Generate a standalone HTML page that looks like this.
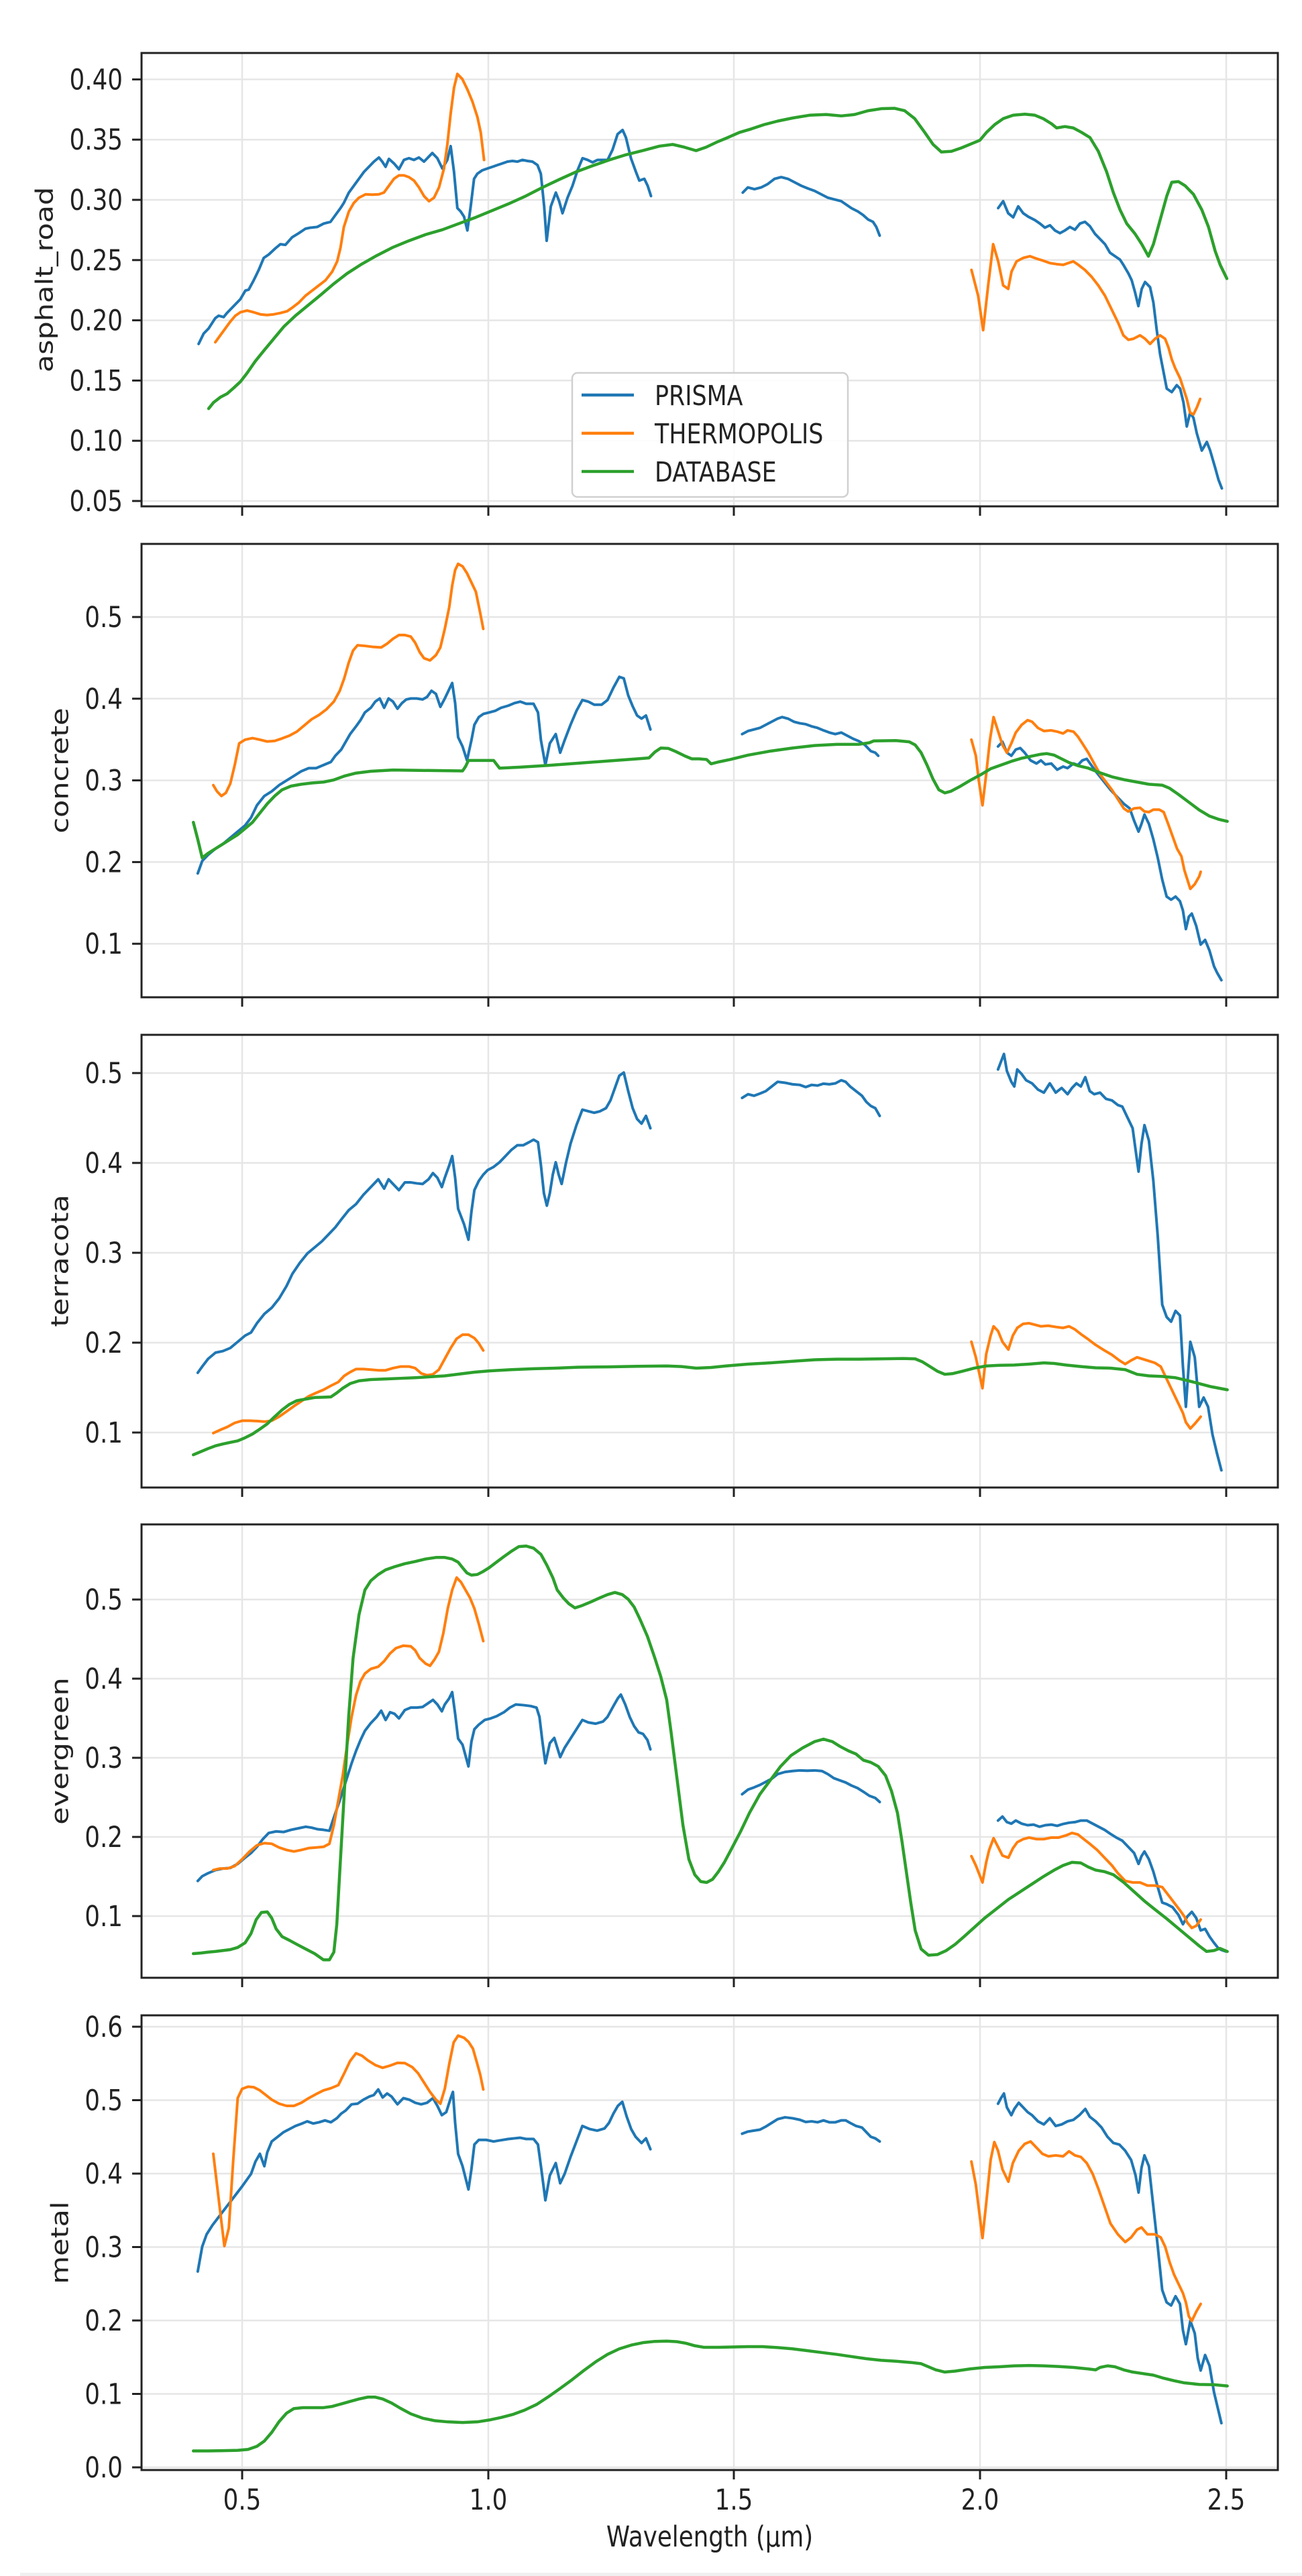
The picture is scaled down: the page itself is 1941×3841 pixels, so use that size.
<!DOCTYPE html>
<html><head><meta charset="utf-8"><style>
html,body{margin:0;padding:0;background:#fff;}
svg{display:block;}
text{font-family:"DejaVu Sans","Liberation Sans",sans-serif;fill:#222;}
.b{fill:none;stroke:#1f77b4;stroke-width:4;stroke-linejoin:round;stroke-linecap:round;}
.o{fill:none;stroke:#ff7f0e;stroke-width:4;stroke-linejoin:round;stroke-linecap:round;}
.g{fill:none;stroke:#2ca02c;stroke-width:4.5;stroke-linejoin:round;stroke-linecap:round;}
.grid{stroke:#e6e6e6;stroke-width:2.5;}
.fr{fill:none;stroke:#222;stroke-width:3;}
.tk{stroke:#222;stroke-width:3;}
</style></head><body>
<svg width="1941" height="3841" viewBox="0 0 1941 3841" xmlns="http://www.w3.org/2000/svg">
<rect width="1941" height="3841" fill="#fff"/>
<rect x="30" y="3836" width="1911" height="5" fill="#f0f0f0"/>

<!-- grids -->
<g class="grid">
<!-- vertical -->
<line x1="361" y1="79" x2="361" y2="755"/><line x1="728" y1="79" x2="728" y2="755"/><line x1="1094" y1="79" x2="1094" y2="755"/><line x1="1461" y1="79" x2="1461" y2="755"/><line x1="1828" y1="79" x2="1828" y2="755"/>
<line x1="361" y1="811" x2="361" y2="1487"/><line x1="728" y1="811" x2="728" y2="1487"/><line x1="1094" y1="811" x2="1094" y2="1487"/><line x1="1461" y1="811" x2="1461" y2="1487"/><line x1="1828" y1="811" x2="1828" y2="1487"/>
<line x1="361" y1="1543" x2="361" y2="2218"/><line x1="728" y1="1543" x2="728" y2="2218"/><line x1="1094" y1="1543" x2="1094" y2="2218"/><line x1="1461" y1="1543" x2="1461" y2="2218"/><line x1="1828" y1="1543" x2="1828" y2="2218"/>
<line x1="361" y1="2273" x2="361" y2="2949"/><line x1="728" y1="2273" x2="728" y2="2949"/><line x1="1094" y1="2273" x2="1094" y2="2949"/><line x1="1461" y1="2273" x2="1461" y2="2949"/><line x1="1828" y1="2273" x2="1828" y2="2949"/>
<line x1="361" y1="3005" x2="361" y2="3683"/><line x1="728" y1="3005" x2="728" y2="3683"/><line x1="1094" y1="3005" x2="1094" y2="3683"/><line x1="1461" y1="3005" x2="1461" y2="3683"/><line x1="1828" y1="3005" x2="1828" y2="3683"/>
<!-- horizontal P1 -->
<line x1="211" x2="1905" y1="118.4" y2="118.4"/><line x1="211" x2="1905" y1="208.2" y2="208.2"/><line x1="211" x2="1905" y1="298" y2="298"/><line x1="211" x2="1905" y1="387.8" y2="387.8"/><line x1="211" x2="1905" y1="477.6" y2="477.6"/><line x1="211" x2="1905" y1="567.4" y2="567.4"/><line x1="211" x2="1905" y1="657.2" y2="657.2"/><line x1="211" x2="1905" y1="747" y2="747"/>
<!-- P2 -->
<line x1="211" x2="1905" y1="920" y2="920"/><line x1="211" x2="1905" y1="1041.8" y2="1041.8"/><line x1="211" x2="1905" y1="1163.6" y2="1163.6"/><line x1="211" x2="1905" y1="1285.4" y2="1285.4"/><line x1="211" x2="1905" y1="1407.2" y2="1407.2"/>
<!-- P3 -->
<line x1="211" x2="1905" y1="1600" y2="1600"/><line x1="211" x2="1905" y1="1734" y2="1734"/><line x1="211" x2="1905" y1="1868" y2="1868"/><line x1="211" x2="1905" y1="2002" y2="2002"/><line x1="211" x2="1905" y1="2136" y2="2136"/>
<!-- P4 -->
<line x1="211" x2="1905" y1="2385" y2="2385"/><line x1="211" x2="1905" y1="2503" y2="2503"/><line x1="211" x2="1905" y1="2621" y2="2621"/><line x1="211" x2="1905" y1="2739" y2="2739"/><line x1="211" x2="1905" y1="2857" y2="2857"/>
<!-- P5 -->
<line x1="211" x2="1905" y1="3022" y2="3022"/><line x1="211" x2="1905" y1="3131.5" y2="3131.5"/><line x1="211" x2="1905" y1="3241" y2="3241"/><line x1="211" x2="1905" y1="3350.5" y2="3350.5"/><line x1="211" x2="1905" y1="3460" y2="3460"/><line x1="211" x2="1905" y1="3569.5" y2="3569.5"/><line x1="211" x2="1905" y1="3679" y2="3679"/>
</g>

<!-- Panel 1 -->
<g transform="scale(1.2442,0.5128)">
<polyline class="b" vector-effect="non-scaling-stroke" points="238,1000 244,970 250,955 258,925 262,918 268,922 272,910 280,890 288,870 294,845 298,842 304,815 310,785 316,750 322,740 330,722 336,710 342,712 350,690 358,678 366,665 372,662 380,660 388,650 396,645 402,625 408,605 412,590 418,560 424,540 430,520 436,500 442,485 448,470 454,458 458,470 462,485 466,462 472,475 478,492 484,465 490,460 496,465 502,458 508,470 514,455 518,445 524,460 530,490 536,465 540,425 544,500 548,605 552,615 556,630 560,670 564,600 568,520 572,505 578,495 584,490 590,485 596,480 602,475 608,470 614,468 620,470 626,465 632,468 638,470 644,480 648,505 652,600 655,700 660,600 666,560 670,585 674,620 680,575 686,540 692,495 698,460 704,465 710,472 716,465 722,465 728,465 734,435 740,390 746,378 750,400 756,460 762,500 766,525 772,520 776,540 780,570"/>
<polyline class="b" vector-effect="non-scaling-stroke" points="890,560 896,545 904,550 912,545 920,535 928,520 936,515 944,520 952,530 960,540 968,548 976,555 984,565 992,575 1000,580 1008,585 1014,595 1020,605 1028,615 1034,625 1040,638 1046,645 1050,660 1054,685"/>
<polyline class="b" vector-effect="non-scaling-stroke" points="1196,605 1202,585 1208,620 1214,632 1220,600 1226,620 1232,630 1240,640 1246,650 1252,662 1258,655 1264,670 1270,678 1276,670 1282,660 1288,668 1294,650 1300,645 1306,658 1312,680 1318,695 1324,710 1330,735 1336,745 1342,755 1346,770 1352,795 1356,815 1360,850 1364,890 1368,840 1372,820 1378,835 1382,880 1386,960 1390,1030 1394,1080 1398,1130 1404,1140 1410,1120 1414,1130 1418,1170 1422,1240 1426,1200 1430,1215 1434,1260 1440,1310 1446,1285 1450,1310 1456,1360 1460,1395 1464,1420"/>
<polyline class="o" vector-effect="non-scaling-stroke" points="258,995 264,975 270,955 276,935 282,918 288,908 296,903 304,908 312,914 320,916 328,914 336,910 344,905 350,895 358,880 366,860 374,845 382,830 390,815 398,790 404,760 408,720 412,660 418,615 424,590 430,575 438,565 446,566 454,565 460,560 466,540 472,520 478,510 484,510 490,515 496,525 502,545 508,570 514,585 520,575 526,545 532,490 536,420 540,330 544,255 548,215 554,230 560,260 566,295 572,340 576,385 580,465"/>
<polyline class="o" vector-effect="non-scaling-stroke" points="1164,785 1172,860 1178,960 1184,830 1190,710 1196,760 1202,830 1208,840 1212,790 1218,760 1226,750 1234,745 1242,752 1250,758 1258,765 1266,768 1274,770 1280,765 1286,760 1292,770 1300,785 1308,805 1316,830 1324,860 1332,900 1340,940 1346,975 1352,988 1358,985 1366,975 1372,985 1378,1000 1384,985 1390,975 1396,985 1400,1010 1404,1045 1408,1070 1414,1100 1418,1130 1422,1160 1426,1200 1430,1205 1434,1185 1438,1160"/>
<polyline class="g" vector-effect="non-scaling-stroke" points="250,1188 256,1170 264,1155 272,1145 280,1128 288,1110 296,1085 306,1050 316,1020 328,985 340,950 354,918 368,890 384,858 400,825 416,795 432,770 450,745 470,720 490,700 510,682 530,668 550,650 570,632 590,612 610,592 630,570 650,545 670,522 690,500 710,482 730,465 750,450 770,438 790,425 806,420 820,428 834,438 846,428 860,412 872,400 886,385 900,375 916,362 932,352 950,343 970,335 990,333 1008,337 1024,333 1040,322 1056,316 1072,315 1084,322 1096,345 1108,385 1118,420 1128,442 1140,440 1152,430 1164,418 1174,408 1182,385 1192,362 1202,345 1214,335 1228,332 1240,335 1250,345 1260,360 1266,372 1276,368 1286,372 1296,385 1306,400 1316,440 1326,500 1334,560 1342,610 1350,650 1360,680 1368,710 1376,745 1382,710 1390,640 1398,570 1404,530 1412,528 1420,540 1430,565 1440,610 1448,660 1456,730 1462,770 1470,810"/>
</g>

<!-- Panel 2 -->
<g transform="translate(200,790) scale(1.1026,0.4615)">
<polyline class="b" vector-effect="non-scaling-stroke" points="86,1110 92,1070 100,1050 110,1030 120,1015 130,995 140,975 150,955 158,930 166,890 176,860 186,845 196,825 206,810 216,795 226,780 236,770 246,770 256,760 266,750 272,730 280,710 286,685 292,660 300,635 306,615 312,590 320,575 326,555 332,545 338,575 344,545 350,555 356,578 362,560 368,548 374,545 382,545 390,548 396,540 402,520 408,530 414,572 420,545 426,515 430,495 434,560 438,670 444,700 450,745 456,680 460,630 466,605 472,595 480,590 488,585 496,575 506,568 514,560 522,555 530,562 540,562 546,590 550,680 556,760 562,690 570,660 576,720 582,680 590,630 598,585 606,550 614,555 622,565 632,565 640,550 648,510 656,475 662,480 668,535 674,570 680,600 686,610 692,600 698,645"/>
<polyline class="b" vector-effect="non-scaling-stroke" points="822,660 830,650 838,645 846,640 854,630 862,620 870,610 876,605 884,610 892,620 900,625 908,628 916,635 924,640 932,648 940,655 948,660 956,655 964,665 972,675 980,683 988,695 996,715 1002,720 1006,730"/>
<polyline class="b" vector-effect="non-scaling-stroke" points="1168,700 1174,685 1180,720 1186,730 1192,710 1198,705 1204,720 1212,745 1220,755 1226,745 1232,758 1240,755 1248,775 1256,765 1262,770 1270,755 1276,760 1282,745 1288,740 1294,760 1300,780 1310,810 1320,840 1330,865 1338,885 1346,900 1352,940 1358,975 1362,950 1366,920 1372,950 1378,1000 1384,1060 1390,1130 1396,1185 1402,1195 1408,1185 1414,1200 1418,1230 1422,1290 1426,1250 1430,1240 1436,1280 1442,1340 1448,1325 1454,1360 1460,1410 1464,1430 1470,1455"/>
<polyline class="o" vector-effect="non-scaling-stroke" points="107,825 112,845 118,860 124,850 130,820 136,760 142,690 150,678 160,673 170,678 180,684 190,682 200,674 210,665 220,652 230,632 240,612 250,598 260,580 270,555 278,520 284,480 290,430 296,390 302,373 312,375 322,378 334,380 342,368 350,352 358,340 366,340 374,345 380,365 386,395 392,415 400,422 408,405 414,380 420,320 426,250 430,180 434,130 438,110 444,118 450,140 456,170 462,200 468,270 472,320"/>
<polyline class="o" vector-effect="non-scaling-stroke" points="1132,678 1138,730 1142,810 1147,890 1152,790 1157,680 1162,605 1168,650 1174,695 1180,720 1186,690 1192,655 1200,630 1208,615 1214,620 1222,640 1230,650 1240,648 1248,652 1256,658 1262,648 1270,652 1276,668 1282,690 1290,720 1298,755 1306,790 1314,815 1322,840 1330,870 1338,900 1344,910 1352,900 1360,898 1366,910 1372,912 1378,904 1386,904 1392,912 1398,950 1404,990 1410,1030 1416,1055 1420,1100 1424,1130 1428,1160 1434,1145 1440,1120 1442,1105"/>
<polyline class="g" vector-effect="non-scaling-stroke" points="80,945 86,1000 92,1060 100,1045 110,1030 120,1015 130,1000 140,985 150,965 160,945 170,915 180,885 190,860 200,840 212,828 226,822 240,818 256,815 270,808 285,795 300,786 320,780 350,776 380,777 410,778 444,779 448,765 452,745 470,745 486,745 494,770 520,767 560,761 600,754 640,747 680,740 696,737 704,718 712,705 722,706 732,716 744,730 754,740 764,740 774,742 780,756 790,750 806,742 830,728 860,715 890,705 920,697 950,693 980,693 994,688 1000,682 1030,681 1048,685 1056,695 1064,720 1072,760 1080,805 1088,840 1096,850 1104,845 1116,830 1130,810 1144,792 1158,772 1172,760 1186,748 1200,738 1214,731 1226,725 1234,723 1244,728 1254,740 1264,752 1276,762 1290,770 1306,785 1322,798 1340,808 1356,815 1372,822 1390,825 1400,835 1412,855 1426,880 1440,905 1454,925 1466,935 1478,942"/>
</g>

<!-- Panel 3 -->
<g transform="translate(200,1530) scale(1.1026,0.4615)">
<polyline class="b" vector-effect="non-scaling-stroke" points="86,1120 92,1100 100,1075 110,1055 120,1050 130,1040 140,1020 150,1000 158,990 166,960 176,930 186,910 196,880 206,840 214,800 224,765 234,735 244,715 254,695 264,670 272,650 280,625 290,595 300,575 310,545 320,520 330,495 338,525 344,495 350,510 358,530 366,505 374,505 382,508 390,510 398,495 404,475 410,490 416,520 420,490 426,450 430,420 434,490 438,590 446,640 452,690 456,600 460,530 466,500 472,480 478,465 486,455 494,440 502,420 510,400 518,385 526,385 534,375 540,367 546,375 550,450 554,540 558,580 562,540 566,480 570,440 574,480 578,510 584,440 590,380 598,320 606,270 614,275 622,280 630,275 638,265 644,240 650,200 656,160 662,150 668,210 674,265 680,300 686,315 692,290 698,330"/>
<polyline class="b" vector-effect="non-scaling-stroke" points="822,232 830,220 838,225 846,218 854,210 862,195 870,180 880,183 890,188 900,190 908,197 916,190 924,192 932,186 940,188 948,185 956,175 962,180 968,195 976,210 984,225 990,245 996,258 1002,265 1008,290"/>
<polyline class="b" vector-effect="non-scaling-stroke" points="1168,140 1172,115 1176,90 1180,145 1186,180 1190,195 1194,140 1200,155 1206,175 1214,185 1222,205 1230,215 1238,185 1246,215 1254,200 1262,220 1268,200 1274,185 1280,195 1286,165 1292,210 1298,220 1306,215 1314,235 1322,240 1330,255 1336,260 1342,290 1350,330 1354,400 1358,470 1362,380 1366,320 1372,370 1378,500 1384,680 1390,900 1396,940 1402,955 1408,920 1414,935 1418,1100 1422,1230 1428,1020 1434,1070 1440,1230 1446,1200 1452,1230 1458,1320 1464,1380 1470,1435"/>
<polyline class="o" vector-effect="non-scaling-stroke" points="107,1315 116,1305 126,1295 136,1282 146,1275 156,1275 166,1276 176,1278 186,1275 196,1262 206,1245 216,1228 226,1212 236,1196 246,1185 256,1175 266,1162 276,1150 284,1130 292,1118 300,1108 310,1108 320,1110 330,1112 340,1112 350,1105 360,1100 372,1100 380,1105 388,1122 396,1128 404,1125 412,1110 420,1075 428,1040 436,1010 444,997 452,997 460,1008 466,1025 472,1048"/>
<polyline class="o" vector-effect="non-scaling-stroke" points="1132,1020 1138,1070 1147,1170 1152,1060 1158,1000 1162,970 1168,985 1174,1020 1182,1045 1188,1000 1194,975 1202,962 1210,960 1218,965 1226,970 1236,968 1246,972 1256,975 1264,970 1272,980 1280,995 1290,1012 1300,1030 1312,1048 1322,1062 1332,1080 1340,1092 1348,1080 1356,1070 1364,1076 1372,1082 1380,1088 1388,1100 1394,1130 1400,1160 1406,1190 1412,1220 1418,1250 1422,1280 1428,1300 1434,1285 1440,1268 1442,1262"/>
<polyline class="g" vector-effect="non-scaling-stroke" points="80,1385 90,1375 100,1365 110,1356 120,1350 130,1345 140,1340 150,1330 160,1318 170,1302 180,1285 190,1262 200,1240 210,1222 220,1210 232,1205 244,1200 256,1199 266,1198 274,1185 282,1170 292,1155 304,1146 320,1142 340,1140 360,1138 380,1136 400,1133 420,1130 440,1124 460,1118 480,1114 510,1110 540,1107 570,1105 600,1102 640,1101 680,1099 720,1098 740,1100 760,1105 780,1103 800,1098 830,1092 860,1088 890,1083 920,1078 950,1076 980,1076 1010,1075 1040,1074 1056,1075 1066,1085 1076,1100 1086,1115 1096,1125 1106,1123 1120,1115 1136,1105 1152,1098 1170,1096 1190,1095 1210,1092 1230,1088 1244,1090 1260,1095 1280,1100 1300,1104 1320,1105 1340,1110 1356,1125 1372,1130 1390,1132 1408,1136 1424,1145 1440,1155 1456,1165 1478,1175"/>
</g>

<!-- Panel 4 -->
<g transform="translate(200,2260) scale(1.1026,0.4615)">
<polyline class="b" vector-effect="non-scaling-stroke" points="86,1180 92,1165 100,1155 110,1145 120,1140 130,1138 140,1125 150,1105 158,1090 166,1070 174,1045 182,1025 192,1020 202,1022 212,1015 222,1010 232,1005 240,1008 248,1013 256,1015 264,1018 270,975 278,920 286,860 294,800 300,760 306,725 312,695 320,670 328,650 334,630 340,660 346,635 352,640 358,655 366,628 374,620 382,620 390,618 398,605 404,595 410,610 416,632 420,610 426,590 430,570 434,640 438,720 444,740 452,810 456,730 460,690 466,675 474,660 482,655 490,648 500,635 508,620 516,610 526,612 536,615 544,620 548,650 552,730 556,800 562,735 568,718 576,780 582,750 590,720 598,690 606,660 614,668 624,672 634,665 640,650 648,615 654,590 658,578 664,610 670,650 676,680 682,700 688,705 694,725 698,755"/>
<polyline class="b" vector-effect="non-scaling-stroke" points="822,900 830,885 838,878 846,870 854,860 862,850 870,835 880,828 890,825 900,823 910,824 920,823 930,825 938,835 946,848 954,855 962,862 970,872 978,880 986,892 994,905 1002,912 1008,925"/>
<polyline class="b" vector-effect="non-scaling-stroke" points="1168,985 1174,972 1180,990 1186,995 1192,985 1200,995 1208,1000 1216,998 1224,1005 1232,1000 1240,998 1248,1002 1256,996 1264,992 1272,990 1280,985 1288,985 1296,995 1304,1005 1312,1015 1320,1028 1328,1040 1336,1050 1344,1070 1352,1090 1358,1125 1362,1100 1366,1085 1372,1110 1378,1150 1384,1200 1390,1250 1396,1255 1404,1265 1412,1290 1418,1320 1424,1295 1430,1280 1436,1300 1442,1340 1448,1335 1454,1360 1460,1380 1466,1398 1470,1403 1476,1408"/>
<polyline class="o" vector-effect="non-scaling-stroke" points="107,1145 116,1140 126,1140 136,1132 146,1110 156,1085 166,1065 176,1058 186,1060 196,1072 206,1080 216,1085 226,1080 236,1074 246,1072 256,1070 264,1060 270,1000 276,920 282,840 288,740 294,650 300,580 306,535 312,510 320,495 330,488 338,470 346,445 354,428 364,420 374,422 380,435 386,460 394,478 400,485 406,465 412,440 418,380 424,300 430,240 436,200 442,215 448,240 454,265 460,300 466,350 472,405"/>
<polyline class="o" vector-effect="non-scaling-stroke" points="1132,1100 1138,1130 1147,1185 1152,1120 1156,1080 1162,1042 1168,1070 1174,1098 1182,1105 1188,1075 1194,1055 1202,1045 1210,1040 1220,1045 1230,1045 1240,1040 1250,1040 1260,1033 1268,1025 1276,1030 1284,1045 1292,1060 1302,1080 1312,1105 1322,1130 1330,1155 1340,1180 1350,1185 1360,1185 1370,1195 1380,1195 1390,1200 1398,1225 1406,1250 1414,1275 1420,1295 1424,1315 1430,1332 1436,1325 1442,1305"/>
<polyline class="g" vector-effect="non-scaling-stroke" points="80,1415 90,1413 100,1410 110,1408 120,1405 130,1402 140,1395 150,1380 158,1350 165,1305 172,1282 180,1280 186,1300 192,1335 200,1360 210,1372 220,1385 232,1400 244,1415 256,1435 264,1435 270,1410 274,1320 278,1150 284,900 290,650 296,460 304,320 312,240 320,210 330,190 340,175 352,165 366,155 380,148 394,140 408,135 420,135 430,140 438,150 444,168 450,185 456,192 464,190 472,180 480,168 490,150 500,132 510,115 520,100 530,98 540,105 550,125 558,160 566,200 572,240 580,265 588,285 596,298 606,290 618,278 630,265 640,255 650,248 660,255 668,270 676,295 684,335 694,390 704,460 712,520 720,595 726,700 734,850 742,1000 750,1110 758,1160 766,1182 774,1185 782,1175 790,1150 798,1120 808,1075 820,1020 832,960 846,900 860,855 874,810 888,775 904,750 920,730 932,722 944,730 954,745 966,760 976,770 986,790 996,797 1006,810 1016,840 1024,890 1032,960 1038,1050 1044,1150 1050,1250 1056,1340 1064,1400 1074,1420 1086,1418 1098,1405 1110,1385 1122,1360 1136,1330 1150,1300 1166,1270 1182,1240 1198,1215 1214,1190 1230,1165 1244,1145 1256,1130 1268,1120 1280,1122 1290,1135 1300,1145 1312,1150 1324,1160 1338,1185 1352,1215 1366,1245 1380,1272 1396,1302 1410,1330 1426,1362 1440,1390 1450,1408 1460,1405 1468,1398 1478,1408"/>
</g>

<!-- Panel 5 -->
<g transform="translate(200,2990) scale(1.1026,0.4615)">
<polyline class="b" vector-effect="non-scaling-stroke" points="86,860 92,780 98,740 106,710 114,685 122,660 130,635 138,610 146,585 152,565 158,545 164,505 170,480 176,520 180,475 186,440 194,425 202,410 210,400 218,390 226,383 234,375 242,382 250,378 258,372 266,378 274,365 280,350 286,340 294,320 302,318 310,305 318,295 324,290 330,272 336,298 342,285 348,295 356,320 364,300 372,305 380,315 388,320 396,315 404,300 410,325 416,355 422,345 428,300 431,280 434,380 438,480 444,520 452,595 456,530 460,450 466,435 476,435 486,440 496,436 506,432 514,430 522,428 530,432 540,432 546,450 550,520 556,630 562,550 570,510 576,575 582,545 590,490 598,440 606,390 616,400 626,405 636,398 642,380 648,350 654,325 660,312 666,360 672,400 678,425 686,445 692,430 698,465"/>
<polyline class="b" vector-effect="non-scaling-stroke" points="822,415 830,408 838,405 846,402 854,392 862,380 870,368 880,362 890,365 900,370 908,377 916,375 924,378 932,372 940,378 948,378 956,372 962,372 968,380 976,390 984,395 990,410 996,425 1002,430 1008,440"/>
<polyline class="b" vector-effect="non-scaling-stroke" points="1168,318 1172,300 1176,285 1180,330 1186,355 1190,335 1196,315 1202,330 1208,345 1214,355 1222,375 1230,385 1238,365 1246,390 1254,385 1262,375 1270,370 1278,355 1286,335 1292,360 1300,375 1308,395 1316,425 1324,445 1332,450 1340,470 1348,500 1354,550 1358,605 1362,525 1366,485 1372,520 1378,650 1384,780 1390,920 1396,960 1402,970 1408,940 1414,965 1418,1050 1422,1095 1428,1020 1434,1060 1438,1140 1442,1180 1448,1130 1454,1165 1460,1250 1466,1310 1470,1350"/>
<polyline class="o" vector-effect="non-scaling-stroke" points="107,480 112,580 118,700 122,778 128,720 134,500 140,300 146,270 154,263 162,265 170,275 178,290 186,305 196,318 206,325 216,325 226,315 236,300 246,287 256,275 266,268 276,258 284,220 292,180 300,155 308,163 316,178 326,193 336,202 346,195 356,186 366,187 376,200 384,220 392,250 400,280 408,305 414,318 420,270 426,190 432,120 438,98 446,105 452,118 458,140 464,190 468,225 472,272"/>
<polyline class="o" vector-effect="non-scaling-stroke" points="1132,505 1138,580 1147,752 1152,640 1158,500 1163,442 1168,470 1174,530 1182,570 1188,510 1196,470 1204,448 1212,440 1220,460 1228,480 1236,488 1246,485 1256,488 1264,472 1272,485 1280,490 1288,510 1296,545 1304,595 1312,650 1320,705 1330,740 1340,765 1348,750 1356,725 1362,718 1370,740 1380,740 1388,750 1394,780 1400,830 1406,870 1412,900 1418,930 1422,960 1426,1005 1430,1020 1436,990 1442,965"/>
<polyline class="g" vector-effect="non-scaling-stroke" points="80,1440 100,1440 120,1439 140,1438 154,1435 166,1425 176,1408 186,1380 196,1345 206,1318 216,1303 228,1300 242,1300 256,1300 268,1296 280,1288 292,1280 304,1272 316,1266 326,1266 336,1272 348,1285 360,1302 374,1320 390,1334 406,1342 424,1346 444,1348 464,1346 480,1340 496,1332 512,1322 528,1308 544,1290 560,1265 576,1238 592,1210 608,1180 624,1152 640,1128 656,1110 672,1098 688,1090 704,1086 720,1085 734,1087 746,1092 758,1100 770,1105 790,1105 810,1104 830,1103 850,1103 870,1106 890,1110 910,1116 930,1122 950,1128 970,1135 990,1142 1010,1147 1030,1150 1050,1154 1064,1158 1074,1168 1084,1178 1096,1185 1110,1182 1130,1175 1150,1170 1170,1168 1190,1165 1210,1164 1230,1165 1250,1167 1270,1170 1290,1175 1300,1178 1306,1170 1316,1165 1326,1168 1338,1178 1350,1185 1364,1190 1378,1195 1392,1205 1406,1213 1420,1220 1440,1225 1460,1226 1478,1230"/>
</g>

<!-- frames -->
<rect class="fr" x="211" y="79" width="1694" height="676"/>
<rect class="fr" x="211" y="811" width="1694" height="676"/>
<rect class="fr" x="211" y="1543" width="1694" height="675"/>
<rect class="fr" x="211" y="2273" width="1694" height="676"/>
<rect class="fr" x="211" y="3005" width="1694" height="678"/>

<!-- ticks -->
<g class="tk">
<line x1="197" x2="211" y1="118.4" y2="118.4"/><line x1="197" x2="211" y1="208.2" y2="208.2"/><line x1="197" x2="211" y1="298" y2="298"/><line x1="197" x2="211" y1="387.8" y2="387.8"/><line x1="197" x2="211" y1="477.6" y2="477.6"/><line x1="197" x2="211" y1="567.4" y2="567.4"/><line x1="197" x2="211" y1="657.2" y2="657.2"/><line x1="197" x2="211" y1="747" y2="747"/>
<line x1="197" x2="211" y1="920" y2="920"/><line x1="197" x2="211" y1="1041.8" y2="1041.8"/><line x1="197" x2="211" y1="1163.6" y2="1163.6"/><line x1="197" x2="211" y1="1285.4" y2="1285.4"/><line x1="197" x2="211" y1="1407.2" y2="1407.2"/>
<line x1="197" x2="211" y1="1600" y2="1600"/><line x1="197" x2="211" y1="1734" y2="1734"/><line x1="197" x2="211" y1="1868" y2="1868"/><line x1="197" x2="211" y1="2002" y2="2002"/><line x1="197" x2="211" y1="2136" y2="2136"/>
<line x1="197" x2="211" y1="2385" y2="2385"/><line x1="197" x2="211" y1="2503" y2="2503"/><line x1="197" x2="211" y1="2621" y2="2621"/><line x1="197" x2="211" y1="2739" y2="2739"/><line x1="197" x2="211" y1="2857" y2="2857"/>
<line x1="197" x2="211" y1="3022" y2="3022"/><line x1="197" x2="211" y1="3131.5" y2="3131.5"/><line x1="197" x2="211" y1="3241" y2="3241"/><line x1="197" x2="211" y1="3350.5" y2="3350.5"/><line x1="197" x2="211" y1="3460" y2="3460"/><line x1="197" x2="211" y1="3569.5" y2="3569.5"/><line x1="197" x2="211" y1="3679" y2="3679"/>
<line x1="361" x2="361" y1="755" y2="769"/><line x1="728" x2="728" y1="755" y2="769"/><line x1="1094" x2="1094" y1="755" y2="769"/><line x1="1461" x2="1461" y1="755" y2="769"/><line x1="1828" x2="1828" y1="755" y2="769"/>
<line x1="361" x2="361" y1="1487" y2="1501"/><line x1="728" x2="728" y1="1487" y2="1501"/><line x1="1094" x2="1094" y1="1487" y2="1501"/><line x1="1461" x2="1461" y1="1487" y2="1501"/><line x1="1828" x2="1828" y1="1487" y2="1501"/>
<line x1="361" x2="361" y1="2218" y2="2232"/><line x1="728" x2="728" y1="2218" y2="2232"/><line x1="1094" x2="1094" y1="2218" y2="2232"/><line x1="1461" x2="1461" y1="2218" y2="2232"/><line x1="1828" x2="1828" y1="2218" y2="2232"/>
<line x1="361" x2="361" y1="2949" y2="2963"/><line x1="728" x2="728" y1="2949" y2="2963"/><line x1="1094" x2="1094" y1="2949" y2="2963"/><line x1="1461" x2="1461" y1="2949" y2="2963"/><line x1="1828" x2="1828" y1="2949" y2="2963"/>
<line x1="361" x2="361" y1="3683" y2="3697"/><line x1="728" x2="728" y1="3683" y2="3697"/><line x1="1094" x2="1094" y1="3683" y2="3697"/><line x1="1461" x2="1461" y1="3683" y2="3697"/><line x1="1828" x2="1828" y1="3683" y2="3697"/>
</g>

<!-- y tick labels -->
<g font-size="43" text-anchor="end">
<text transform="translate(183,118.4) scale(0.83,1)" dy="15">0.40</text>
<text transform="translate(183,208.2) scale(0.83,1)" dy="15">0.35</text>
<text transform="translate(183,298) scale(0.83,1)" dy="15">0.30</text>
<text transform="translate(183,387.8) scale(0.83,1)" dy="15">0.25</text>
<text transform="translate(183,477.6) scale(0.83,1)" dy="15">0.20</text>
<text transform="translate(183,567.4) scale(0.83,1)" dy="15">0.15</text>
<text transform="translate(183,657.2) scale(0.83,1)" dy="15">0.10</text>
<text transform="translate(183,747) scale(0.83,1)" dy="15">0.05</text>
<text transform="translate(183,920) scale(0.83,1)" dy="15">0.5</text>
<text transform="translate(183,1041.8) scale(0.83,1)" dy="15">0.4</text>
<text transform="translate(183,1163.6) scale(0.83,1)" dy="15">0.3</text>
<text transform="translate(183,1285.4) scale(0.83,1)" dy="15">0.2</text>
<text transform="translate(183,1407.2) scale(0.83,1)" dy="15">0.1</text>
<text transform="translate(183,1600) scale(0.83,1)" dy="15">0.5</text>
<text transform="translate(183,1734) scale(0.83,1)" dy="15">0.4</text>
<text transform="translate(183,1868) scale(0.83,1)" dy="15">0.3</text>
<text transform="translate(183,2002) scale(0.83,1)" dy="15">0.2</text>
<text transform="translate(183,2136) scale(0.83,1)" dy="15">0.1</text>
<text transform="translate(183,2385) scale(0.83,1)" dy="15">0.5</text>
<text transform="translate(183,2503) scale(0.83,1)" dy="15">0.4</text>
<text transform="translate(183,2621) scale(0.83,1)" dy="15">0.3</text>
<text transform="translate(183,2739) scale(0.83,1)" dy="15">0.2</text>
<text transform="translate(183,2857) scale(0.83,1)" dy="15">0.1</text>
<text transform="translate(183,3022) scale(0.83,1)" dy="15">0.6</text>
<text transform="translate(183,3131.5) scale(0.83,1)" dy="15">0.5</text>
<text transform="translate(183,3241) scale(0.83,1)" dy="15">0.4</text>
<text transform="translate(183,3350.5) scale(0.83,1)" dy="15">0.3</text>
<text transform="translate(183,3460) scale(0.83,1)" dy="15">0.2</text>
<text transform="translate(183,3569.5) scale(0.83,1)" dy="15">0.1</text>
<text transform="translate(183,3679) scale(0.83,1)" dy="15">0.0</text>
</g>

<!-- x tick labels -->
<g font-size="43" text-anchor="middle">
<text transform="translate(361,3742) scale(0.83,1)">0.5</text>
<text transform="translate(728,3742) scale(0.83,1)">1.0</text>
<text transform="translate(1094,3742) scale(0.83,1)">1.5</text>
<text transform="translate(1461,3742) scale(0.83,1)">2.0</text>
<text transform="translate(1828,3742) scale(0.83,1)">2.5</text>
<text transform="translate(1058,3797) scale(0.83,1)">Wavelength (µm)</text>
</g>

<!-- y labels -->
<g font-size="43" text-anchor="middle">
<text transform="translate(66,417) scale(0.83,1) rotate(-90)" dy="15">asphalt_road</text>
<text transform="translate(89,1149) scale(0.83,1) rotate(-90)" dy="15">concrete</text>
<text transform="translate(89,1880) scale(0.83,1) rotate(-90)" dy="15">terracota</text>
<text transform="translate(89,2611) scale(0.83,1) rotate(-90)" dy="15">evergreen</text>
<text transform="translate(89,3344) scale(0.83,1) rotate(-90)" dy="15">metal</text>
</g>

<!-- legend -->
<rect x="853" y="556" width="411" height="185" rx="8" fill="#fff" fill-opacity="0.85" stroke="#d0d0d0" stroke-width="2.5"/>
<line x1="867" x2="945" y1="589" y2="589" stroke="#1f77b4" stroke-width="4.5"/>
<line x1="867" x2="945" y1="646" y2="646" stroke="#ff7f0e" stroke-width="4.5"/>
<line x1="867" x2="945" y1="703" y2="703" stroke="#2ca02c" stroke-width="4.5"/>
<g font-size="41">
<text transform="translate(976,589) scale(0.85,1)" dy="15">PRISMA</text>
<text transform="translate(976,646) scale(0.85,1)" dy="15">THERMOPOLIS</text>
<text transform="translate(976,703) scale(0.85,1)" dy="15">DATABASE</text>
</g>
</svg>
</body></html>
